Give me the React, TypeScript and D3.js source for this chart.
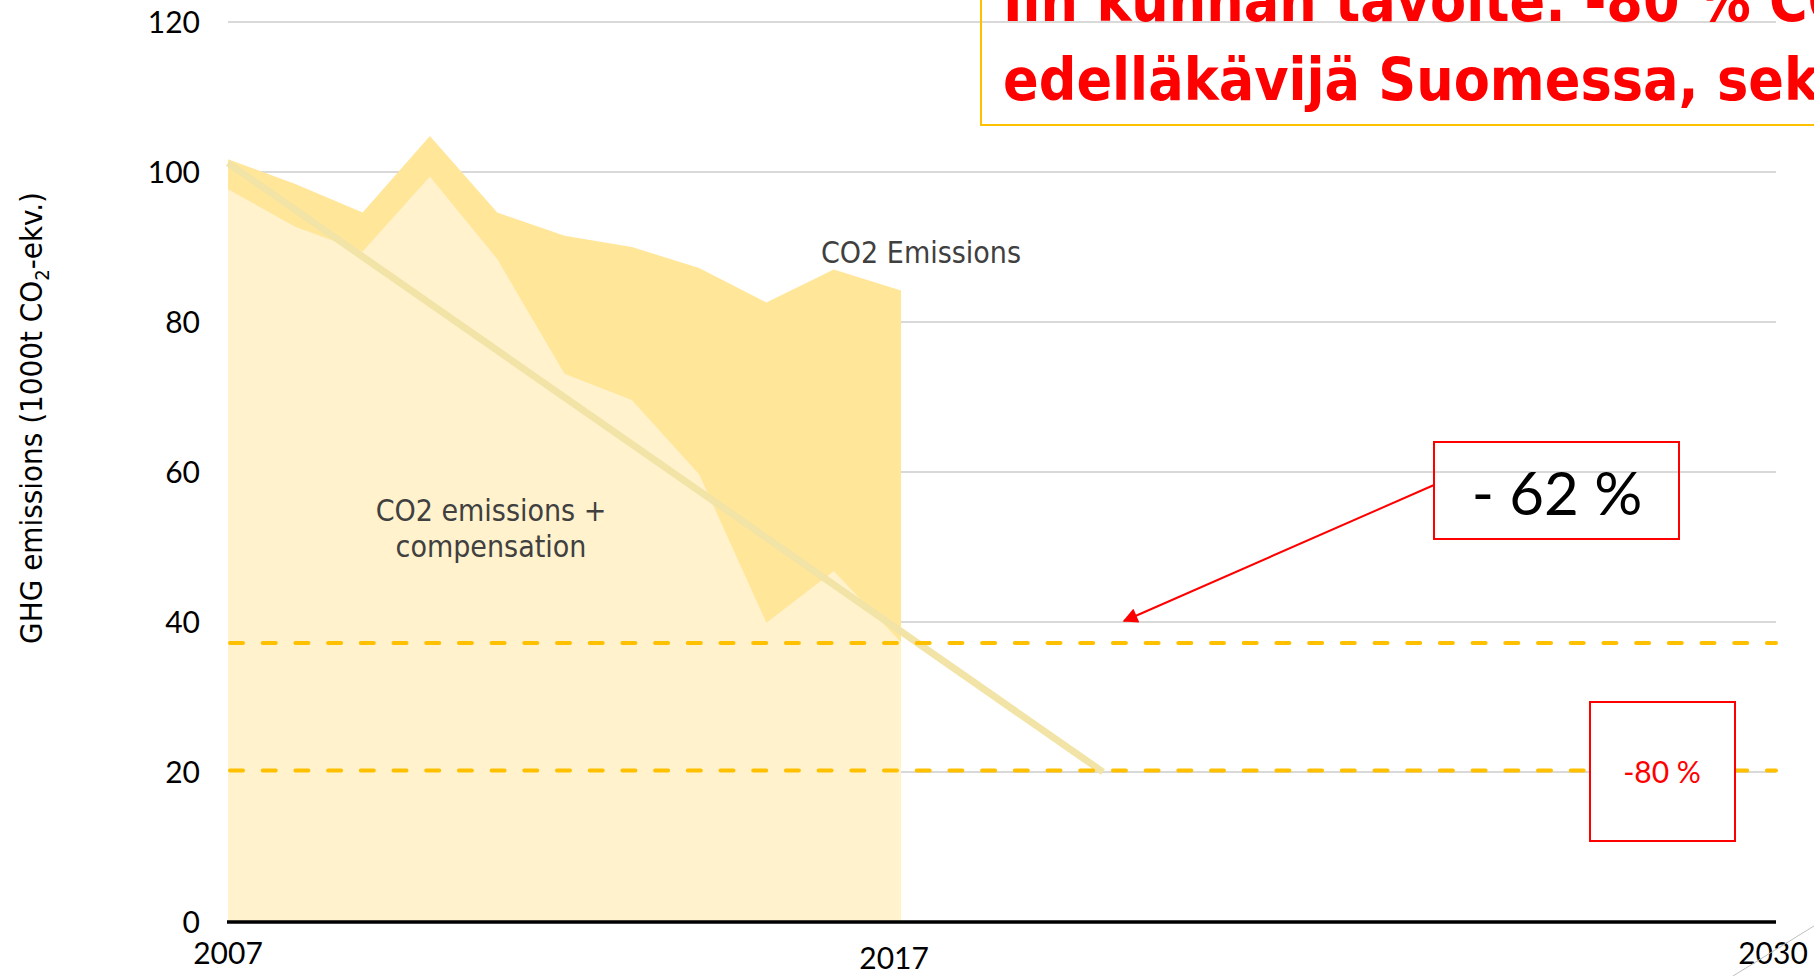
import React from "react";
import * as d3 from "d3";

const years = [2007, 2008, 2009, 2010, 2011, 2012, 2013, 2014, 2015, 2016, 2017];
const co2Emissions = [101.7, 98.4, 94.6, 104.8, 94.6, 91.5, 90.0, 87.2, 82.6, 87.0, 84.2];
const co2WithCompensation = [97.7, 92.7, 89.4, 99.4, 88.4, 73.1, 69.6, 59.7, 39.9, 46.8, 37.3];
const trendYears = [2007, 2020];
const trendValues = [101.2, 20];
const targetLevels = [37.2, 20.2];
const yTicks = [0, 20, 40, 60, 80, 100, 120];
const xTickLabels = [
  { year: 2007, label: "2007", dx: 0, dy: 0 },
  { year: 2017, label: "2017", dx: -7, dy: 5 },
  { year: 2030, label: "2030", dx: -3, dy: 0 },
];
const titleLines = ["Iin kunnan tavoite: -80 % CO2", "edelläkävijä Suomessa, sekä"];

const W = 1814;
const H = 976;
const M = { left: 228, right: 1776, top: 22, bottom: 922 };

export default function App() {
  const x = d3.scaleLinear().domain([2007, 2030]).range([M.left, M.right]);
  const y = d3.scaleLinear().domain([0, 120]).range([M.bottom, M.top]);

  const area = d3
    .area<number>()
    .x((_, i) => x(years[i]))
    .y0(y(0))
    .y1((d) => y(d));
  const line = d3
    .line<number>()
    .x((_, i) => x(trendYears[i]))
    .y((d) => y(d));

  const labelFont = "'DejaVu Sans Condensed', 'DejaVu Sans', sans-serif";
  const tickFont = "Lato, 'Liberation Sans', sans-serif";

  return (
    <svg
      width={W}
      height={H}
      style={{ position: "absolute", left: 0, top: 0, background: "#fff" }}
    >
      <defs>
        <marker
          id="arrowhead"
          viewBox="0 0 10 10"
          refX="9"
          refY="5"
          markerWidth="17"
          markerHeight="15"
          markerUnits="userSpaceOnUse"
          orient="auto"
        >
          <path d="M0,0 L10,5 L0,10 z" fill="#FF0000" />
        </marker>
      </defs>

      {/* gridlines */}
      {yTicks
        .filter((t) => t > 0)
        .map((t) => (
          <line
            key={t}
            x1={M.left}
            x2={M.right}
            y1={y(t)}
            y2={y(t)}
            stroke="#D9D9D9"
            strokeWidth={2}
          />
        ))}

      {/* areas */}
      <path d={area(co2Emissions) || ""} fill="#FFE699" />
      <path d={area(co2WithCompensation) || ""} fill="#FFF2CC" />

      {/* trend line */}
      <path
        d={line(trendValues) || ""}
        fill="none"
        stroke="#F2E3A6"
        strokeWidth={7}
      />

      {/* target dashed lines */}
      {targetLevels.map((v) => (
        <line
          key={v}
          x1={M.left + 2}
          x2={M.right}
          y1={y(v)}
          y2={y(v)}
          stroke="#FFC000"
          strokeWidth={4}
          strokeDasharray="13 19.7"
          strokeLinecap="round"
        />
      ))}

      {/* x axis */}
      <line
        x1={M.left - 1}
        x2={M.right}
        y1={y(0)}
        y2={y(0)}
        stroke="#000"
        strokeWidth={3.4}
      />

      {/* y tick labels */}
      {yTicks.map((t) => (
        <text
          key={t}
          x={200}
          y={y(t)}
          dy="0.36em"
          textAnchor="end"
          fontFamily={tickFont}
          fontSize={30}
          fill="#000"
        >
          {t}
        </text>
      ))}

      {/* x tick labels */}
      {xTickLabels.map((d) => (
        <text
          key={d.label}
          x={x(d.year) + d.dx}
          y={964 + d.dy}
          textAnchor="middle"
          fontFamily={tickFont}
          fontSize={30}
          fill="#000"
        >
          {d.label}
        </text>
      ))}

      {/* y axis title */}
      <text
        transform={`translate(42, 418) rotate(-90)`}
        textAnchor="middle"
        fontFamily={labelFont}
        fontSize={31}
        fill="#000"
      >
        GHG emissions (1000t CO
        <tspan fontSize={20} dy={7}>
          2
        </tspan>
        <tspan dy={-7}>-ekv.)</tspan>
      </text>

      {/* series labels */}
      <text
        x={921}
        y={263}
        textAnchor="middle"
        fontFamily={labelFont}
        fontSize={30}
        fill="#404040"
      >
        CO2 Emissions
      </text>
      <text
        x={491}
        y={521}
        textAnchor="middle"
        fontFamily={labelFont}
        fontSize={30}
        fill="#404040"
      >
        CO2 emissions +
      </text>
      <text
        x={491}
        y={557}
        textAnchor="middle"
        fontFamily={labelFont}
        fontSize={30}
        fill="#404040"
      >
        compensation
      </text>

      {/* -62 % annotation */}
      <line
        x1={1434}
        y1={485}
        x2={1124}
        y2={621}
        stroke="#FF0000"
        strokeWidth={2}
        markerEnd="url(#arrowhead)"
      />
      <rect
        x={1434}
        y={442}
        width={245}
        height={97}
        fill="none"
        stroke="#FF0000"
        strokeWidth={2}
      />
      <text
        x={1557}
        y={515}
        textAnchor="middle"
        fontFamily={tickFont}
        fontSize={60}
        fill="#000"
      >
        - 62 %
      </text>

      {/* -80 % annotation */}
      <rect
        x={1590}
        y={702}
        width={145}
        height={139}
        fill="#fff"
        stroke="#FF0000"
        strokeWidth={2}
      />
      <text
        x={1662}
        y={783}
        textAnchor="middle"
        fontFamily={tickFont}
        fontSize={30}
        fill="#FF0000"
      >
        -80 %
      </text>

      {/* title box */}
      <rect
        x={981}
        y={-20}
        width={900}
        height={145}
        fill="none"
        stroke="#FFC000"
        strokeWidth={2}
      />
      {titleLines.map((t, i) => (
        <text
          key={i}
          x={1003}
          y={21 + i * 78.5}
          fontFamily={labelFont}
          fontWeight="bold"
          fontSize={58.5}
          fill="#FF0000"
        >
          {t}
        </text>
      ))}

      {/* decorative corner line */}
      <line x1={1733} y1={976} x2={1814} y2={926} stroke="#BFBFBF" strokeWidth={1} />
    </svg>
  );
}
